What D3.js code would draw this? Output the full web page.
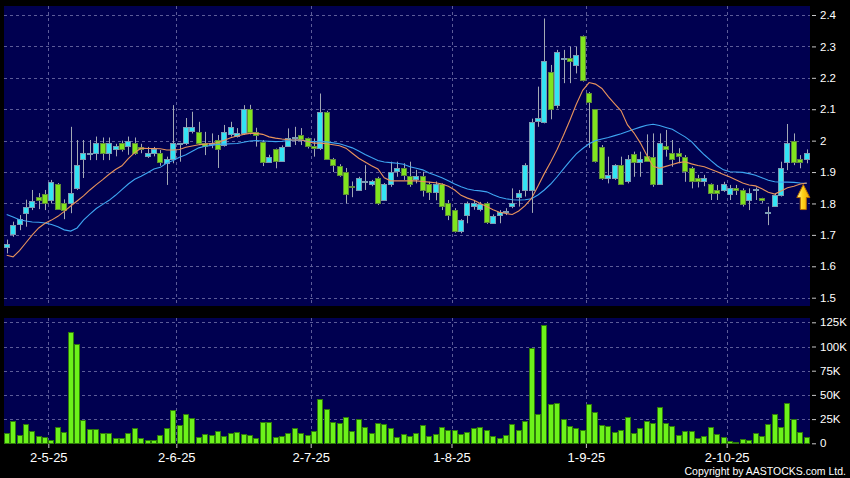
<!DOCTYPE html>
<html><head><meta charset="utf-8">
<script src="https://cdn.jsdelivr.net/npm/d3@7"></script>
<style>html,body{margin:0;padding:0;background:#000;}svg{display:block;}</style>
</head><body><svg id="c" width="850" height="478"></svg>
<script>
// ---------- DATA ----------
const dates = [
"22-4-25","23-4-25","24-4-25","25-4-25","28-4-25","29-4-25","30-4-25",
"2-5-25","6-5-25","7-5-25","8-5-25","9-5-25","12-5-25","13-5-25","14-5-25","15-5-25","16-5-25","19-5-25","20-5-25","21-5-25","22-5-25","23-5-25","26-5-25","27-5-25","28-5-25","29-5-25","30-5-25",
"2-6-25","3-6-25","4-6-25","5-6-25","6-6-25","9-6-25","10-6-25","11-6-25","12-6-25","13-6-25","16-6-25","17-6-25","18-6-25","19-6-25","20-6-25","23-6-25","24-6-25","25-6-25","26-6-25","27-6-25","30-6-25",
"2-7-25","3-7-25","4-7-25","7-7-25","8-7-25","9-7-25","10-7-25","11-7-25","14-7-25","15-7-25","16-7-25","17-7-25","18-7-25","21-7-25","22-7-25","23-7-25","24-7-25","25-7-25","28-7-25","29-7-25","30-7-25","31-7-25",
"1-8-25","4-8-25","5-8-25","6-8-25","7-8-25","8-8-25","11-8-25","12-8-25","13-8-25","14-8-25","15-8-25","18-8-25","19-8-25","20-8-25","21-8-25","22-8-25","25-8-25","26-8-25","27-8-25","28-8-25","29-8-25",
"1-9-25","2-9-25","3-9-25","4-9-25","5-9-25","8-9-25","9-9-25","10-9-25","11-9-25","12-9-25","15-9-25","16-9-25","17-9-25","18-9-25","19-9-25","22-9-25","23-9-25","24-9-25","25-9-25","26-9-25","29-9-25","30-9-25",
"2-10-25","3-10-25","6-10-25","8-10-25","9-10-25","10-10-25","13-10-25","14-10-25","15-10-25","16-10-25","17-10-25","20-10-25","21-10-25"
];
const openP = [
1.662,1.703,1.733,1.772,1.791,1.820,1.830,1.811,1.861,1.800,
1.800,1.850,1.941,1.960,1.960,1.992,1.960,1.972,1.992,1.983,
1.992,1.981,1.951,1.960,1.960,1.928,1.941,1.990,1.992,2.028,
2.028,1.992,1.990,2.002,1.986,2.021,2.013,2.023,2.100,2.028,
1.997,1.933,1.972,1.938,1.983,2.010,2.018,2.007,1.983,1.976,
2.091,1.942,1.920,1.901,1.855,1.843,1.870,1.861,1.880,1.811,
1.862,1.901,1.912,1.888,1.880,1.888,1.861,1.834,1.861,1.800,
1.779,1.713,1.763,1.790,1.781,1.800,1.739,1.766,1.775,1.792,
1.820,1.843,1.843,2.060,2.060,2.219,2.111,2.262,2.262,2.241,
2.333,2.151,2.100,1.981,1.882,1.882,1.922,1.871,1.957,1.933,
1.952,1.949,1.862,1.983,1.960,1.960,1.949,1.912,1.880,1.871,
1.861,1.843,1.843,1.832,1.850,1.843,1.811,1.846,1.818,1.772,
1.792,1.827,1.933,2.000,1.941,1.941];
const highP = [
1.685,1.742,1.763,1.812,1.843,1.833,1.843,1.875,1.865,1.813,
2.044,2.002,2.002,2.002,2.013,2.010,2.010,1.990,2.000,2.013,
2.010,1.990,1.980,1.980,1.970,1.949,2.113,1.993,2.072,2.092,
2.060,2.028,2.023,2.018,2.050,2.060,2.040,2.113,2.114,2.041,
2.002,1.955,1.975,1.985,2.039,2.044,2.040,2.010,2.007,2.150,
2.095,1.945,1.925,1.913,1.870,1.885,1.922,1.875,1.885,1.865,
1.933,1.933,1.928,1.933,1.907,1.901,1.869,1.870,1.864,1.811,
1.785,1.750,1.806,1.810,1.805,1.805,1.765,1.779,1.785,1.848,
1.843,1.928,2.070,2.172,2.389,2.241,2.289,2.289,2.299,2.299,
2.335,2.155,2.100,1.986,1.949,1.925,1.949,1.954,1.965,1.965,
2.020,2.023,2.023,2.034,2.002,1.976,1.954,1.917,1.891,1.891,
1.864,1.859,1.869,1.859,1.859,1.848,1.848,1.851,1.818,1.790,
1.832,1.933,2.053,2.023,1.954,1.972];
const lowP = [
1.641,1.694,1.715,1.726,1.779,1.782,1.779,1.800,1.780,1.750,
1.769,1.843,1.881,1.938,1.938,1.938,1.938,1.950,1.965,1.955,
1.955,1.960,1.945,1.950,1.920,1.859,1.928,1.933,1.986,2.023,
1.986,1.954,1.976,1.913,1.981,2.013,2.010,2.018,2.020,1.981,
1.919,1.930,1.912,1.935,1.981,1.986,1.986,1.975,1.949,1.970,
1.940,1.900,1.885,1.800,1.820,1.840,1.843,1.855,1.795,1.808,
1.853,1.885,1.875,1.853,1.864,1.822,1.811,1.810,1.779,1.747,
1.707,1.705,1.737,1.780,1.775,1.735,1.735,1.737,1.763,1.785,
1.790,1.822,1.770,2.044,2.055,2.068,2.103,2.183,2.183,2.214,
2.188,1.977,1.930,1.875,1.864,1.875,1.859,1.864,1.885,1.885,
1.933,1.853,1.859,1.949,1.917,1.928,1.869,1.848,1.851,1.855,
1.811,1.811,1.837,1.811,1.827,1.790,1.779,1.811,1.802,1.731,
1.790,1.822,1.906,1.922,1.912,1.928];
const closeP = [
1.672,1.733,1.750,1.790,1.809,1.812,1.800,1.869,1.782,1.779,
1.832,1.922,1.960,1.961,1.992,1.960,1.992,1.983,1.973,2.000,
1.960,1.975,1.960,1.972,1.931,1.941,1.992,1.992,2.042,2.042,
1.992,1.983,1.993,1.972,2.028,2.042,2.023,2.100,2.028,2.020,
1.933,1.949,1.933,1.981,2.010,2.011,2.004,1.983,1.976,2.091,
1.942,1.922,1.890,1.832,1.853,1.880,1.871,1.871,1.800,1.861,
1.901,1.912,1.890,1.862,1.888,1.843,1.834,1.861,1.790,1.763,
1.713,1.747,1.800,1.800,1.798,1.739,1.761,1.774,1.776,1.802,
1.834,1.922,2.060,2.071,2.253,2.100,2.281,2.263,2.251,2.273,
2.193,2.122,1.933,1.882,1.891,1.922,1.862,1.941,1.933,1.941,
1.935,1.862,1.992,1.972,1.941,1.949,1.903,1.871,1.871,1.880,
1.832,1.832,1.861,1.850,1.843,1.800,1.832,1.847,1.811,1.773,
1.827,1.912,1.992,1.933,1.933,1.960];
// volume in thousands of shares
const volumeK = [
11,23,8.6,19.6,12.7,7.9,6.2,3.1,16.5,12,
114.7,102.6,24,14.8,14.5,10.3,10.3,5.5,5.5,11,
15.5,5.8,3.1,3.1,8.9,15.5,34.7,18.6,30.6,25.8,
6.2,9.9,8.3,12.4,7.5,10.3,12,9.3,8.3,5.2,
21.7,21.9,6.5,7.2,10.3,16.1,11,8.3,12.7,45.5,
35.1,21.9,21.3,26.9,13,24.8,16.5,10.6,20.7,19.6,
15.5,6.8,9.9,7.2,10.6,19,7.9,9.6,16.5,13.8,
13.8,9.6,11.4,15.5,17.2,13.8,7.6,5.9,8.3,20.0,
13.8,23.1,98.8,30.3,122.2,40.3,41.3,24.8,17.9,16.2,
13.8,40.3,32.4,18.9,17.9,11.7,13.8,27.5,10.7,15.5,
23.1,21.3,37.5,21.3,18.3,8.3,12.4,13.1,5.5,7.6,
17.2,10.0,6.2,2.1,1.7,4.1,3.4,11.0,7.9,20.0,
30.0,17.2,41.3,25.1,11.4,6.9];
// moving averages as drawn
const maShort = [
1.635,1.630,1.650,1.675,1.700,1.722,1.737,1.747,1.759,1.775,
1.792,1.808,1.824,1.843,1.860,1.876,1.893,1.908,1.920,1.943,
1.962,1.976,1.975,1.975,1.974,1.970,1.970,1.972,1.979,1.983,
1.987,1.989,1.991,1.994,2.001,2.009,2.015,2.020,2.023,2.023,
2.020,2.012,2.008,2.005,2.003,2.002,2.002,1.997,1.992,1.992,
1.990,1.987,1.984,1.976,1.960,1.944,1.932,1.920,1.910,1.882,
1.872,1.872,1.872,1.872,1.872,1.870,1.868,1.866,1.862,1.855,
1.843,1.826,1.817,1.810,1.800,1.790,1.780,1.772,1.768,1.765,
1.776,1.793,1.816,1.855,1.895,1.932,1.972,2.017,2.065,2.116,
2.160,2.185,2.180,2.166,2.140,2.117,2.095,2.050,2.025,1.993,
1.954,1.918,1.912,1.918,1.924,1.930,1.933,1.926,1.921,1.917,
1.909,1.901,1.892,1.884,1.875,1.865,1.859,1.856,1.847,1.836,
1.830,1.840,1.850,1.855,1.862,1.865];
const maLong = [
1.765,1.757,1.748,1.744,1.741,1.740,1.738,1.733,1.726,1.716,
1.712,1.722,1.747,1.766,1.784,1.797,1.810,1.826,1.844,1.862,
1.877,1.887,1.898,1.910,1.915,1.929,1.937,1.947,1.955,1.966,
1.977,1.982,1.985,1.988,1.989,1.990,1.991,1.995,1.999,2.000,
1.999,1.998,1.997,1.998,2.000,2.002,2.001,1.998,1.997,1.997,
1.996,1.993,1.990,1.984,1.977,1.967,1.956,1.946,1.937,1.932,
1.930,1.928,1.925,1.917,1.912,1.907,1.897,1.890,1.882,1.872,
1.862,1.853,1.846,1.842,1.840,1.837,1.828,1.820,1.815,1.812,
1.811,1.812,1.815,1.827,1.843,1.862,1.885,1.910,1.935,1.958,
1.975,1.990,2.000,2.005,2.010,2.016,2.022,2.029,2.036,2.043,
2.049,2.052,2.048,2.042,2.036,2.024,2.012,1.997,1.975,1.955,
1.937,1.920,1.907,1.901,1.900,1.899,1.895,1.890,1.882,1.874,
1.869,1.868,1.868,1.867,1.865,1.864];
const priceTicks = [1.5,1.6,1.7,1.8,1.9,2.0,2.1,2.2,2.3,2.4];
const volumeTicks = [0,25,50,75,100,125];
const xTickLabels = ["2-5-25","2-6-25","2-7-25","1-8-25","1-9-25","2-10-25"];
const copyrightText = "Copyright by AASTOCKS.com Ltd.";

// ---------- CHART ----------
const W = 850, H = 478;
const P = {x0: 4, x1: 810, top: 6, bottom: 306};   // price panel
const V = {top: 318, bottom: 443.5};               // volume panel
const n = dates.length;
const svg = d3.select('#c');
svg.append('rect').attr('width', W).attr('height', H).attr('fill', '#000');

const xi = d3.scaleLinear().domain([0, n]).range([3.5, 809.9]);
const cx = i => xi(i + 0.5);
const yP = d3.scaleLinear().domain([1.5, 2.4]).range([297.7, 15]);
const yV = d3.scaleLinear().domain([0, 125]).range([443.3, 322.3]);
const tickIdx = xTickLabels.map(l => dates.indexOf(l));

const navy = '#000050', gridC = '#5c5c98';
const defs = svg.append('defs');
defs.append('clipPath').attr('id', 'cp').append('rect')
  .attr('x', P.x0).attr('y', P.top).attr('width', P.x1 - P.x0).attr('height', P.bottom - P.top);
const ag = defs.append('linearGradient').attr('id', 'arrowG').attr('x1', 0).attr('x2', 1).attr('y1', 0).attr('y2', 0);
ag.append('stop').attr('offset', '0%').attr('stop-color', '#fff3a0');
ag.append('stop').attr('offset', '45%').attr('stop-color', '#ffd21a');
ag.append('stop').attr('offset', '100%').attr('stop-color', '#f2a400');

svg.append('rect').attr('x', P.x0).attr('y', P.top).attr('width', P.x1 - P.x0).attr('height', P.bottom - P.top).attr('fill', navy);
svg.append('rect').attr('x', P.x0).attr('y', V.top).attr('width', P.x1 - P.x0).attr('height', V.bottom - V.top).attr('fill', navy);

const grid = svg.append('g').attr('stroke', gridC).attr('stroke-dasharray', '3,3').attr('stroke-width', 1).attr('shape-rendering', 'crispEdges');
grid.selectAll('.hp').data(priceTicks).join('line')
  .attr('x1', P.x0).attr('x2', P.x1).attr('y1', d => Math.round(yP(d)) + 0.5).attr('y2', d => Math.round(yP(d)) + 0.5);
grid.selectAll('.hv').data(volumeTicks.filter(d => d > 0)).join('line')
  .attr('x1', P.x0).attr('x2', P.x1).attr('y1', d => Math.round(yV(d)) + 0.5).attr('y2', d => Math.round(yV(d)) + 0.5);
tickIdx.forEach(i => {
  const gx = Math.round(xi(i)) + 0.5;
  grid.append('line').attr('x1', gx).attr('x2', gx).attr('y1', P.top).attr('y2', P.bottom);
  grid.append('line').attr('x1', gx).attr('x2', gx).attr('y1', V.top).attr('y2', V.bottom);
});

// candles
const idx = d3.range(n);
const cg = svg.append('g').attr('clip-path', 'url(#cp)');
cg.selectAll('.wick').data(idx).join('line')
  .attr('x1', i => Math.round(cx(i)) + 0.5).attr('x2', i => Math.round(cx(i)) + 0.5)
  .attr('y1', i => yP(highP[i])).attr('y2', i => yP(lowP[i]))
  .attr('stroke', '#a3a9b4').attr('stroke-width', 1);
const bw = 5;
cg.selectAll('.body').data(idx).join('rect')
  .attr('x', i => Math.round(cx(i)) - 2.5)
  .attr('width', bw)
  .attr('y', i => Math.round(yP(Math.max(openP[i], closeP[i]))) + 0.5)
  .attr('height', i => Math.max(1, Math.round(Math.abs(yP(openP[i]) - yP(closeP[i])))))
  .attr('fill', i => closeP[i] >= openP[i] ? '#33e4f4' : '#80e41e')
  .attr('stroke', i => closeP[i] >= openP[i] ? '#7c9cb4' : '#5e8c3a')
  .attr('stroke-width', 1);

// moving averages
const line = d3.line().x((d, i) => cx(i)).y(d => yP(d));
cg.append('path').datum(maLong).attr('d', line).attr('fill', 'none').attr('stroke', '#3ea6f2').attr('stroke-width', 1.1);
cg.append('path').datum(maShort).attr('d', line).attr('fill', 'none').attr('stroke', '#e8935c').attr('stroke-width', 1.1);

// arrow at latest point
const tx = cx(n - 1) - 3.4, ty = yP(maShort[n - 1]) + 1.5;
svg.append('path')
  .attr('d', `M${tx},${ty} L${tx + 6.5},${ty + 13} L${tx + 3},${ty + 13} L${tx + 3},${ty + 25} L${tx - 3},${ty + 25} L${tx - 3},${ty + 13} L${tx - 6.5},${ty + 13} Z`)
  .attr('fill', 'url(#arrowG)').attr('stroke', '#b56a00').attr('stroke-width', 1).attr('stroke-linejoin', 'round');

// volume bars
svg.append('g').selectAll('rect').data(idx).join('rect')
  .attr('x', i => Math.round(cx(i)) - 2.5)
  .attr('width', bw)
  .attr('y', i => Math.round(yV(volumeK[i])) + 0.5)
  .attr('height', i => Math.max(0, 443 - Math.round(yV(volumeK[i]))))
  .attr('fill', '#6cf21a').attr('stroke', '#2e7a0c').attr('stroke-width', 1);

// axes
const styleAxis = (g, size) => {
  g.select('.domain').remove();
  g.selectAll('.tick line').attr('stroke', '#c8c8c8');
  g.selectAll('.tick text').attr('fill', '#fff').attr('font-family', 'Liberation Sans, Arial, sans-serif').attr('font-size', size);
};
svg.append('g').attr('transform', 'translate(812,0)')
  .call(d3.axisRight(yP).tickValues(priceTicks).tickSize(4).tickPadding(4).tickFormat(d => String(+d.toFixed(1))))
  .call(g => styleAxis(g, 11.5));
svg.append('g').attr('transform', 'translate(812,0)')
  .call(d3.axisRight(yV).tickValues(volumeTicks).tickSize(4).tickPadding(4).tickFormat(d => d === 0 ? '0' : d + 'K'))
  .call(g => styleAxis(g, 11.5));
svg.append('g').attr('transform', 'translate(0,444)')
  .call(d3.axisBottom(xi).tickValues(tickIdx).tickSize(4).tickPadding(5).tickFormat(i => dates[i]))
  .call(g => styleAxis(g, 13));

svg.append('text').attr('x', 846).attr('y', 475).attr('text-anchor', 'end')
  .attr('fill', '#fff').attr('font-family', 'Liberation Sans, Arial, sans-serif').attr('font-size', 10.5)
  .text(copyrightText);
</script></body></html>
